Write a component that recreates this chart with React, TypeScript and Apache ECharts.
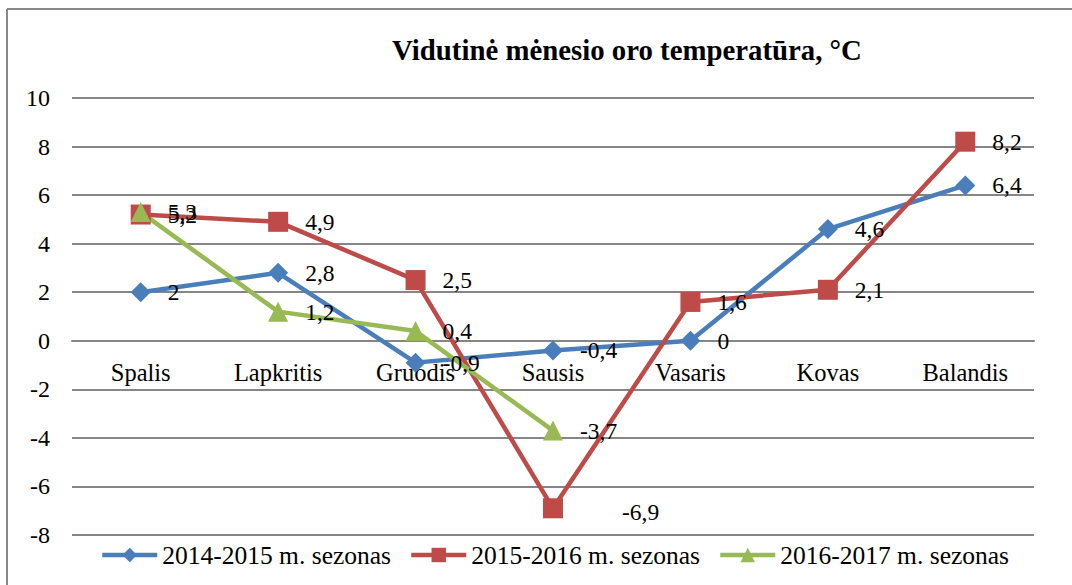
import React, { useEffect, useRef } from "react";
import * as echarts from "echarts";

const categories = ["Spalis", "Lapkritis", "Gruodis", "Sausis", "Vasaris", "Kovas", "Balandis"];
const season1 = [2, 2.8, -0.9, -0.4, 0, 4.6, 6.4];
const season2 = [5.2, 4.9, 2.5, -6.9, 1.6, 2.1, 8.2];
const season3 = [5.3, 1.2, 0.4, -3.7];
const seriesNames = ["2014-2015 m. sezonas", "2015-2016 m. sezonas", "2016-2017 m. sezonas"];
const titleText = "Vidutinė mėnesio oro temperatūra, °C";
const yMin = -8;
const yMax = 10;
const yStep = 2;

const FONT = "Liberation Serif";
const fmt = (v: number) => String(v).replace(".", ",");

export default function App() {
  const ref = useRef<HTMLDivElement>(null);
  useEffect(() => {
    if (!ref.current) return;
    const chart = echarts.init(ref.current, null, { renderer: "svg" });
    const gridTop = 98;
    const gridBottom = 50;
    const gridH = 585 - gridTop - gridBottom;
    const zeroFromBottom = (gridH * (0 - yMin)) / (yMax - yMin);
    const labelBase = {
      show: true,
      position: "right" as const,
      distance: 17,
      color: "#000",
      fontFamily: FONT,
      fontSize: 23.5,
      formatter: (p: any) => fmt(p.value),
    };
    const mk = (name: string, data: any[], color: string, symbol: string, size: number) => ({
      name,
      type: "line",
      data,
      symbol,
      symbolSize: size,
      showSymbol: true,
      lineStyle: { color, width: 4.5 },
      itemStyle: { color },
      label: labelBase,
    });
    const s2data = season2.map((v, i) =>
      i === 3 ? { value: v, label: { offset: [42, 4] } } : v
    );
    chart.setOption({
      animation: false,
      backgroundColor: "#fff",
      textStyle: { fontFamily: FONT },
      title: {
        text: titleText,
        left: 622,
        top: 30,
        textAlign: "center",
        textStyle: { fontFamily: FONT, fontSize: 28.8, fontWeight: "bold", color: "#000" },
      },
      grid: { left: 72, right: 38, top: gridTop, bottom: gridBottom, containLabel: false },
      legend: {
        left: 100,
        top: 542,
        padding: 0,
        itemWidth: 55,
        itemHeight: 18,
        itemGap: 18,
        lineStyle: { width: 4.5 },
        textStyle: { fontFamily: FONT, fontSize: 25.5, color: "#000" },
        data: seriesNames,
      },
      xAxis: {
        type: "category",
        data: categories,
        boundaryGap: true,
        offset: -zeroFromBottom,
        axisLine: { show: true, onZero: false, lineStyle: { color: "#868686", width: 2 } },
        axisTick: { show: false },
        axisLabel: { color: "#000", fontFamily: FONT, fontSize: 24.5, margin: 19 },
      },
      yAxis: {
        type: "value",
        min: yMin,
        max: yMax,
        interval: yStep,
        axisLine: { show: false },
        axisTick: { show: false },
        splitLine: { lineStyle: { color: "#868686", width: 2 } },
        axisLabel: { color: "#000", fontFamily: FONT, fontSize: 24, margin: 22 },
      },
      graphic: [
        { type: "line", shape: { x1: 7, y1: 9, x2: 1072, y2: 9 }, style: { stroke: "#888", lineWidth: 2 } },
        { type: "line", shape: { x1: 7, y1: 9, x2: 7, y2: 585 }, style: { stroke: "#888", lineWidth: 2 } },
      ],
      series: [
        mk(seriesNames[0], season1, "#4a7ebb", "diamond", 20),
        mk(seriesNames[1], s2data, "#be4b48", "rect", 20),
        mk(seriesNames[2], season3, "#98b954", "triangle", 20),
      ],
    });
    return () => chart.dispose();
  }, []);
  return <div ref={ref} style={{ width: 1072, height: 585, position: "absolute", left: 0, top: 0 }} />;
}
